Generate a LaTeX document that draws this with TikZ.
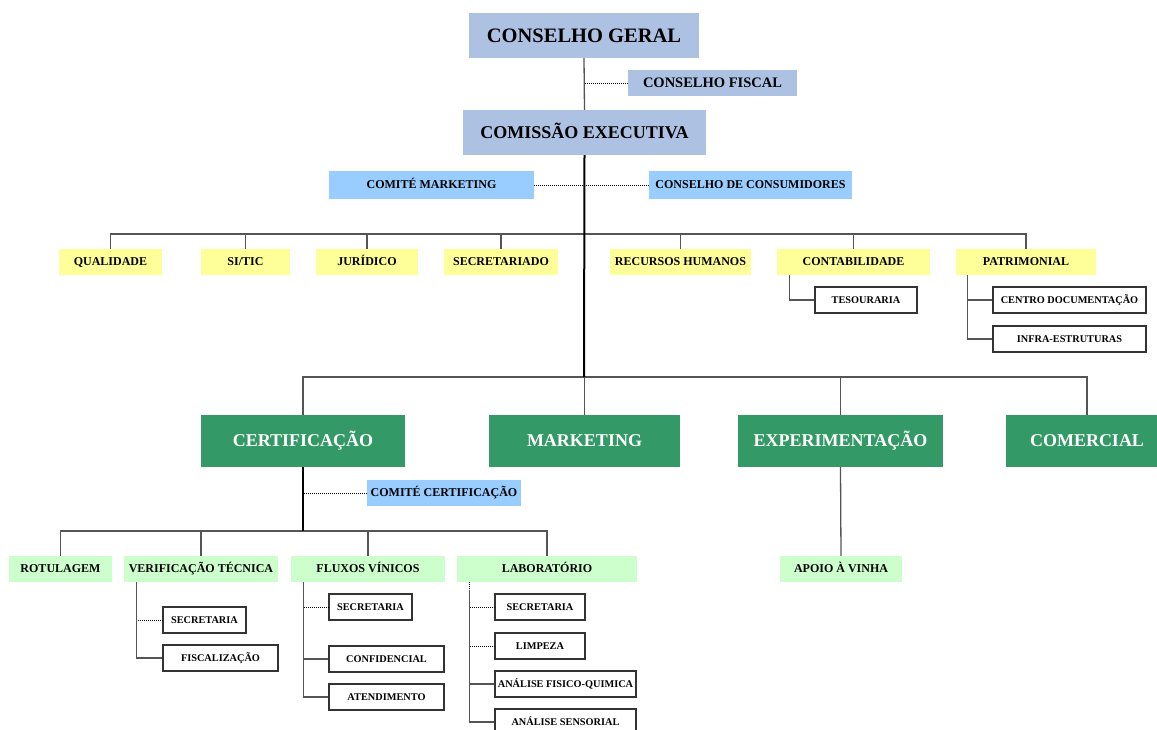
\documentclass[tikz,border=0pt]{standalone}
\usepackage{fontspec}
\setmainfont{Liberation Serif}
\usetikzlibrary{calc}
\definecolor{topblue}{HTML}{ADC2E3}
\definecolor{comblue}{HTML}{99CCFF}
\definecolor{yel}{HTML}{FFFF99}
\definecolor{dgreen}{HTML}{339966}
\definecolor{lgreen}{HTML}{CCFFCC}
\definecolor{linegray}{HTML}{555555}
\tikzset{
  box/.style={inner sep=0pt, font=\bfseries, text=black, text depth=0pt},
  topbox/.style={box, fill=topblue},
  combox/.style={box, fill=comblue, font=\fontsize{12}{14}\selectfont\bfseries, text height=7.9pt, minimum height=28pt},
  yelbox/.style={box, fill=yel, font=\fontsize{12}{14}\selectfont\bfseries, text height=7.9pt, minimum height=26pt},
  greenbox/.style={box, fill=dgreen, text=white, font=\fontsize{18}{20}\selectfont\bfseries, text height=11.9pt, minimum height=52pt},
  lgbox/.style={box, fill=lgreen, font=\fontsize{12}{14}\selectfont\bfseries, text height=7.9pt, minimum height=26pt},
  whitebox/.style={box, draw=black!80, line width=1.1pt, fill=white, font=\fontsize{10.3}{12}\selectfont\bfseries, text height=6.8pt, minimum height=26pt},
  conn/.style={draw=linegray, line width=1.3pt},
  mainconn/.style={draw=black, line width=2pt},
  dotconn/.style={draw=black, line width=0.8pt, dash pattern=on 0.8pt off 1.2pt},
}
\begin{document}
\begin{tikzpicture}[x=1pt,y=-1pt]
\useasboundingbox (0,0) rectangle (1157,729);
% top
\node[topbox, font=\fontsize{20.5}{22}\selectfont\bfseries, text height=13.5pt, minimum width=230pt, minimum height=45pt] (cg) at (584,35.5) {CONSELHO GERAL};
\node[topbox, font=\fontsize{14.5}{16}\selectfont\bfseries, text height=9.6pt, minimum width=169pt, minimum height=26pt] (cf) at (712.5,83) {CONSELHO FISCAL};
\node[topbox, font=\fontsize{18}{20}\selectfont\bfseries, text height=11.9pt, minimum width=243pt, minimum height=45pt] (ce) at (584.5,132.5) {COMISSÃO EXECUTIVA};
\node[combox, minimum width=205pt] (cm) at (431.5,185) {COMITÉ MARKETING};
\node[combox, minimum width=203pt] (cc) at (750.5,185) {CONSELHO DE CONSUMIDORES};
% yellow
\node[yelbox, minimum width=103pt] (qual) at (110.5,262) {QUALIDADE};
\node[yelbox, minimum width=89pt] (sitic) at (245.5,262) {SI/TIC};
\node[yelbox, minimum width=102pt] (jur) at (367,262) {JURÍDICO};
\node[yelbox, minimum width=114pt] (sec) at (501,262) {SECRETARIADO};
\node[yelbox, minimum width=141pt] (rh) at (680.5,262) {RECURSOS HUMANOS};
\node[yelbox, minimum width=153pt] (cont) at (853.5,262) {CONTABILIDADE};
\node[yelbox, minimum width=140pt] (pat) at (1026,262) {PATRIMONIAL};
\node[whitebox, minimum width=102pt] (tes) at (866,300) {TESOURARIA};
\node[whitebox, minimum width=153pt] (cdoc) at (1069.5,300) {CENTRO DOCUMENTAÇÃO};
\node[whitebox, minimum width=153pt] (infra) at (1069.5,339) {INFRA-ESTRUTURAS};
% green
\node[greenbox, minimum width=204pt] (cert) at (303,441) {CERTIFICAÇÃO};
\node[greenbox, minimum width=191pt] (mkt) at (584.5,441) {MARKETING};
\node[greenbox, minimum width=205pt] (exp) at (840.5,441) {EXPERIMENTAÇÃO};
\node[greenbox, minimum width=162pt] (com) at (1087,441) {COMERCIAL};
\node[combox, minimum width=154pt, minimum height=26pt] (ccert) at (444,493) {COMITÉ CERTIFICAÇÃO};
% light green
\node[lgbox, minimum width=103pt] (rot) at (60.5,569) {ROTULAGEM};
\node[lgbox, minimum width=154pt] (vt) at (201,569) {VERIFICAÇÃO TÉCNICA};
\node[lgbox, minimum width=154pt] (flux) at (368,569) {FLUXOS VÍNICOS};
\node[lgbox, minimum width=180pt] (lab) at (547,569) {LABORATÓRIO};
\node[lgbox, minimum width=122pt] (apoio) at (841,569) {APOIO À VINHA};
% white sub boxes
\node[whitebox, minimum width=83pt] (vtsec) at (204.5,620) {SECRETARIA};
\node[whitebox, minimum width=115pt] (fisc) at (220.5,658) {FISCALIZAÇÃO};
\node[whitebox, minimum width=83pt] (fsec) at (370.5,607) {SECRETARIA};
\node[whitebox, minimum width=115pt] (conf) at (386.5,659) {CONFIDENCIAL};
\node[whitebox, minimum width=115pt] (aten) at (386.5,697) {ATENDIMENTO};
\node[whitebox, minimum width=90pt] (lsec) at (540,607) {SECRETARIA};
\node[whitebox, minimum width=90pt] (limp) at (540,646) {LIMPEZA};
\node[whitebox, minimum width=141pt] (afq) at (565.5,684) {ANÁLISE FISICO-QUIMICA};
\node[whitebox, minimum width=141pt] (asens) at (565.5,722) {ANÁLISE SENSORIAL};
% coordinates
\coordinate (b1) at (584,234);
\coordinate (b2) at (584,377);
\coordinate (b3) at (303,531);
\coordinate (contl) at ($(cont.south west)+(13,0)$);
\coordinate (patl) at ($(pat.south west)+(12,0)$);
\coordinate (vtl) at ($(vt.south west)+(13,0)$);
\coordinate (fl) at ($(flux.south west)+(13,0)$);
\coordinate (ll) at ($(lab.south west)+(13,0)$);
\coordinate (llb) at ($(lab.south west)+(13,8)$);
% connectors top
\draw[conn] (cg.south) -- (ce.north);
\draw[dotconn] (cf.west) -- (cf.west -| cg.south);
\draw[dotconn] (cm.east) -- (cc.west);
\foreach \n in {qual,sitic,jur,sec,rh,cont,pat} \draw[conn] (\n.north) |- (b1);
\draw[conn] (contl) |- (tes.west);
\draw[conn] (patl) |- (cdoc.west);
\draw[conn] (patl) |- (infra.west);
\foreach \n in {cert,mkt,exp,com} \draw[conn] (\n.north) |- (b2);
\draw[mainconn] (ce.south) -- (b2);
% certification
\draw[dotconn] (ccert.west) -- (ccert.west -| cert.south);
\foreach \n in {rot,vt,flux,lab} \draw[conn] (\n.north) |- (b3);
\draw[mainconn] (cert.south) -- (b3);
\draw[conn] (exp.south) -- (apoio.north);
\draw[conn] (vtl) |- (fisc.west);
\draw[dotconn] (vtsec.west) -- (vtsec.west -| vtl);
\draw[conn] (fl) |- (aten.west);
\draw[conn] (conf.west) -- (conf.west -| fl);
\draw[dotconn] (fsec.west) -- (fsec.west -| fl);
\draw[dotconn] (ll) -- (llb);
\draw[conn] (llb) |- (asens.west);
\draw[conn] (afq.west) -- (afq.west -| ll);
\draw[dotconn] (lsec.west) -- (lsec.west -| ll);
\draw[dotconn] (limp.west) -- (limp.west -| ll);
\end{tikzpicture}
\end{document}
